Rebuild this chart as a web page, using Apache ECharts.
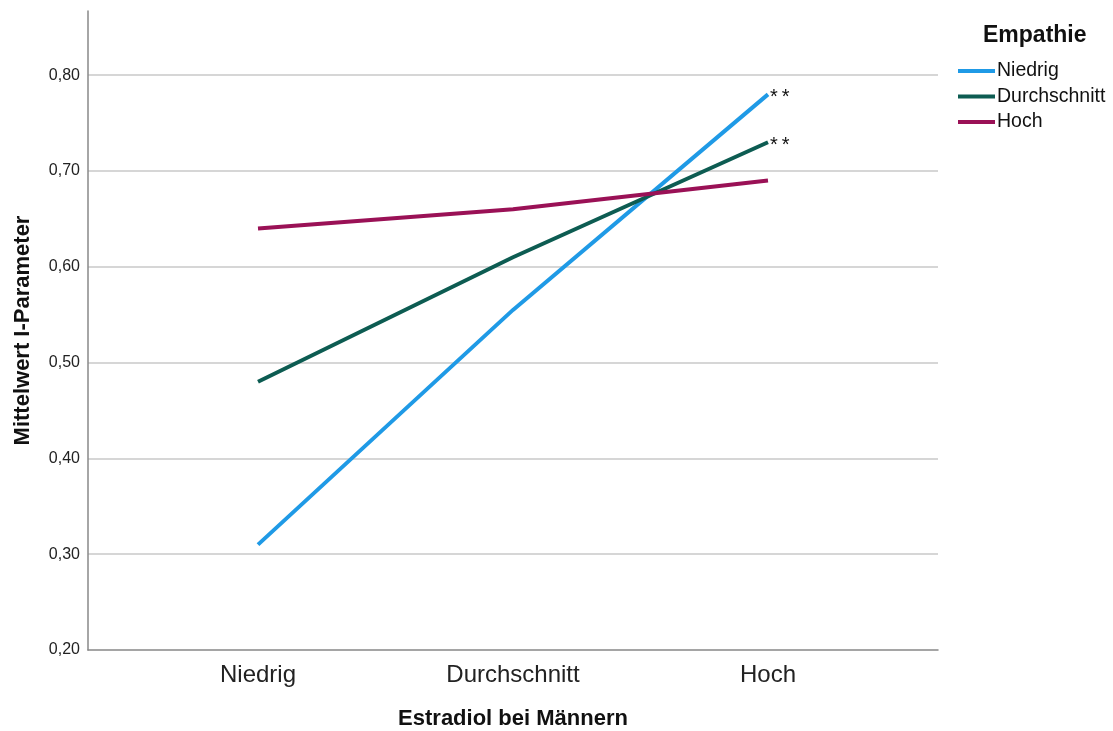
<!DOCTYPE html>
<html>
<head>
<meta charset="utf-8">
<script src="https://cdn.jsdelivr.net/npm/echarts@6/dist/echarts.min.js"></script>
<style>
  html, body { margin: 0; padding: 0; background: #fff; }
  #chart { width: 1113px; height: 731px; }
</style>
</head>
<body>
<div id="chart"></div>
<script>
// Estradiol level groups (x axis)
const categories = ['Niedrig', 'Durchschnitt', 'Hoch'];
// Empathy groups (legend)
const groupNames = ['Niedrig', 'Durchschnitt', 'Hoch'];
// Mean I-parameter per estradiol group
const empathyLow = [0.31, 0.555, 0.78];
const empathyMid = [0.48, 0.61, 0.73];
const empathyHigh = [0.64, 0.66, 0.69];
// Significance marks at the last point
const sigLow = ['', '', '*\u2009*'];
const sigMid = ['', '', '*\u2009*'];
const sigHigh = ['', '', ''];
const yTicks = [0.2, 0.3, 0.4, 0.5, 0.6, 0.7, 0.8];

const colors = ['#1f9ae6', '#0d5c52', '#9a1156'];
const seriesValues = [empathyLow, empathyMid, empathyHigh];
const seriesMarks = [sigLow, sigMid, sigHigh];

const chart = echarts.init(document.getElementById('chart'), null, { renderer: 'canvas' });

const series = groupNames.map((name, s) => ({
  name: name,
  type: 'line',
  data: seriesValues[s].map((v, i) => [i, v]),
  symbol: 'circle',
  showSymbol: true,
  symbolSize: 0.01,
  lineStyle: { width: 4, color: colors[s], cap: 'butt' },
  itemStyle: { color: colors[s] },
  label: {
    show: true,
    position: 'right',
    distance: 2,
    offset: [0, 3],
    fontFamily: 'Liberation Sans',
    fontSize: 20,
    color: '#111',
    formatter: p => seriesMarks[s][p.dataIndex]
  },
  emphasis: { disabled: true },
  z: 3 + s
}));

chart.setOption({
  animation: false,
  backgroundColor: '#ffffff',
  textStyle: { fontFamily: 'Liberation Sans' },
  title: {
    text: 'Empathie',
    left: 983,
    top: 24,
    padding: 0,
    textStyle: { fontFamily: 'Liberation Sans', fontSize: 23, fontWeight: 'bold', color: '#111' }
  },
  legend: {
    orient: 'vertical',
    left: 953,
    top: 56,
    icon: 'rect',
    itemWidth: 37,
    itemHeight: 4,
    itemGap: 5.5,
    textStyle: { fontFamily: 'Liberation Sans', fontSize: 19.5, lineHeight: 20, color: '#111', padding: [0, 0, 0, -3] },
    data: groupNames,
    selectedMode: false
  },
  grid: { left: 88, right: 175, top: 11, bottom: 81, outerBoundsMode: 'none', containLabel: false },
  xAxis: {
    type: 'value',
    min: -2 / 3,
    max: 8 / 3,
    name: 'Estradiol bei Männern',
    nameLocation: 'middle',
    nameGap: 58,
    nameTextStyle: { fontFamily: 'Liberation Sans', fontSize: 22, fontWeight: 'bold', color: '#111' },
    axisLine: { show: true, onZero: false, lineStyle: { color: '#888', width: 1.5 } },
    axisTick: { show: false },
    splitLine: { show: false },
    axisLabel: {
      customValues: categories.map((c, i) => i),
      formatter: v => categories[Math.round(v)],
      fontFamily: 'Liberation Sans',
      fontSize: 24,
      color: '#222',
      margin: 13
    }
  },
  yAxis: {
    type: 'value',
    min: 0.2,
    max: 0.867,
    interval: 0.1,
    name: 'Mittelwert I-Parameter',
    nameLocation: 'middle',
    nameGap: 54,
    nameTextStyle: { fontFamily: 'Liberation Sans', fontSize: 22, fontWeight: 'bold', color: '#111' },
    axisLine: { show: true, onZero: false, lineStyle: { color: '#888', width: 1.5 } },
    axisTick: { show: false },
    splitLine: { show: true, showMaxLine: false, showMinLine: false, lineStyle: { color: '#c8c8c8', width: 1.5 } },
    axisLabel: {
      customValues: yTicks,
      formatter: v => v.toFixed(2).replace('.', ','),
      fontFamily: 'Liberation Sans',
      fontSize: 16,
      color: '#222',
      margin: 8
    }
  },
  series: series
});
</script>
</body>
</html>
